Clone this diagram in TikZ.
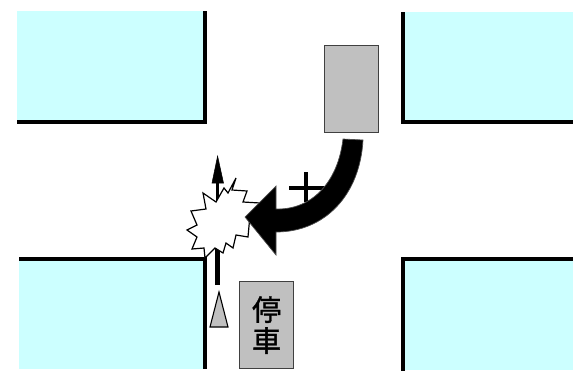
\documentclass[tikz,border=0pt]{standalone}
\usepackage{fontspec}
\newfontfamily\cjkfont[FakeBold=1.2]{Noto Sans CJK JP}
\definecolor{blockcyan}{RGB}{204,255,255}
\definecolor{cargray}{RGB}{192,192,192}
\tikzset{
    blockfill/.style={fill=blockcyan, draw=none},
    kerb/.style={line width=3.8pt, black},
    carbox/.style={draw=black!75, fill=cargray, line width=1.2pt, anchor=north west, inner sep=0pt},
}
\begin{document}
\begin{tikzpicture}[x=1pt, y=-1pt]
    \useasboundingbox (0,0) rectangle (573,372);
    % street blocks
    \fill[blockfill] (17,11) rectangle (205,122);
    \fill[blockfill] (403,12) rectangle (573,122);
    \fill[blockfill] (19,259) rectangle (205,369);
    \fill[blockfill] (403,259) rectangle (573,370);
    \draw[kerb] (17,122) -- (205,122) -- (205,11);
    \draw[kerb] (573,122) -- (403,122) -- (403,12);
    \draw[kerb] (19,259) -- (205,259) -- (205,369);
    \draw[kerb] (573,259) -- (403,259) -- (403,371);
    % cars
    \node[carbox, minimum width=54pt, minimum height=87pt] (parked) at (323.5,45) {};
    \node[carbox, minimum width=54pt, minimum height=87pt, align=center, font=\cjkfont\fontsize{29}{31}\selectfont] (stopped) at (239,281) {停\\車};
    % straight car
    \draw[line width=4.5pt] (217.6,285) -- (217.6,240);
    \draw[line width=3pt] (217.6,210) -- (217.6,180);
    \draw[fill=black, line width=0.5pt] (217.6,156) -- (223.5,183) -- (212,183) -- cycle;
    \draw[draw=black, fill=cargray, line width=1.1pt] (219,292) -- (228,327) -- (210,327) -- cycle;
    % impact
    \draw[fill=white, line width=1.2pt] (236,178) -- (228,193) -- (224,188) -- (216,202) -- (203,193) -- (206,209) -- (191,211) -- (197,225) -- (187,230) -- (197,237) -- (192,249) -- (204,248) -- (205,258) -- (215,248) -- (223,253) -- (226,243) -- (233,248) -- (236,235) -- (248,237) -- (250,215) -- (260,203) -- (243,202) -- (247,191) -- (232,190) -- cycle;
    % turning car
    \draw[line width=4.5pt] (289,188) -- (327,188);
    \draw[line width=4.5pt] (306,172) -- (306,202);
    \draw[draw=black!70, fill=black, line width=0.7pt] (343,139) -- (363,140)
        .. controls (360,195) and (325,232) .. (276,232) -- (276,255) -- (245,217) -- (276,186) -- (276,209)
        .. controls (312,210) and (338,182) .. (343,139) -- cycle;
\end{tikzpicture}
\end{document}
